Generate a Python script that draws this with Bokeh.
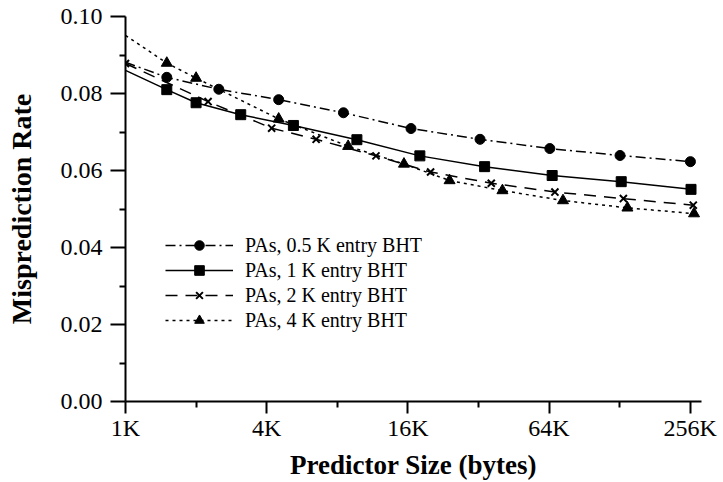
from bokeh.plotting import figure
from bokeh.models import (FixedTicker, CustomJSTickFormatter, Legend, LegendItem,
                          Range1d, PrintfTickFormatter)
from bokeh.embed import file_html
from bokeh.resources import INLINE

# Predictor size in KB
s05_x = [1.0, 1.5, 2.5, 4.5, 8.5, 16.5, 32.5, 64.5, 128.5, 256.5]
s05_y = [0.0881, 0.0842, 0.0811, 0.0784, 0.0750, 0.0709, 0.0681, 0.0657, 0.0639, 0.0623]

s1_x = [1.0, 1.5, 2.0, 3.1, 5.2, 9.7, 18.0, 34.0, 66.0, 130.0, 258.0]
s1_y = [0.0860, 0.0810, 0.0776, 0.0745, 0.0717, 0.0680, 0.0638, 0.0610, 0.0587, 0.0571, 0.0551]

s2_x = [1.0, 2.25, 4.2, 6.5, 11.7, 20.0, 36.3, 67.8, 132.8, 263.8]
s2_y = [0.0878, 0.0779, 0.0710, 0.0681, 0.0638, 0.0596, 0.0567, 0.0544, 0.0527, 0.0510]

s4_x = [1.0, 1.5, 2.0, 4.5, 8.9, 15.4, 24.1, 40.5, 73.4, 138.2, 265.8]
s4_y = [0.0951, 0.0879, 0.0840, 0.0734, 0.0663, 0.0617, 0.0574, 0.0548, 0.0522, 0.0503, 0.0488]

labels = ["PAs, 0.5 K entry BHT", "PAs, 1 K entry BHT", "PAs, 2 K entry BHT", "PAs, 4 K entry BHT"]

x_major = [1, 4, 16, 64, 256]
x_minor = [2, 8, 32, 128]
y_major = [0.0, 0.02, 0.04, 0.06, 0.08, 0.10]
y_minor = [0.01, 0.03, 0.05, 0.07, 0.09]

FONT = "Liberation Serif"

p = figure(width=723, height=482, x_axis_type="log",
           x_range=Range1d(1, 286), y_range=Range1d(0, 0.10),
           output_backend="svg", toolbar_location=None,
           min_border_left=125, min_border_right=22, min_border_top=16,
           min_border_bottom=81)
p.outline_line_color = None
p.grid.visible = False
p.background_fill_color = "white"

# axes styling
for ax in (p.xaxis[0], p.yaxis[0]):
    ax.axis_line_width = 2
    ax.major_tick_line_width = 2
    ax.minor_tick_line_width = 2
    ax.major_tick_in = 0
    ax.minor_tick_in = 0
    ax.major_label_text_font = FONT
    ax.major_label_text_font_size = "24px"
    ax.axis_label_text_font = FONT
    ax.axis_label_text_font_style = "bold"
    ax.axis_line_color = "black"
    ax.major_tick_line_color = "black"
    ax.minor_tick_line_color = "black"
    ax.major_label_text_color = "black"
    ax.axis_label_text_color = "black"

p.xaxis.ticker = FixedTicker(ticks=x_major, minor_ticks=x_minor)
p.xaxis.formatter = CustomJSTickFormatter(code="return tick + 'K';")
p.xaxis.major_tick_out = 12
p.xaxis.minor_tick_out = 6
p.xaxis.major_label_standoff = 1
p.xaxis.axis_label = "Predictor Size (bytes)"
p.xaxis.axis_label_text_font_size = "27px"
p.xaxis.axis_label_standoff = 6

p.yaxis.ticker = FixedTicker(ticks=y_major, minor_ticks=y_minor)
p.yaxis.formatter = PrintfTickFormatter(format="%.2f")
p.yaxis.major_tick_out = 15
p.yaxis.minor_tick_out = 6
p.yaxis.major_label_standoff = 8
p.yaxis.axis_label = "Misprediction Rate"
p.yaxis.axis_label_text_font_size = "28px"
p.yaxis.axis_label_standoff = 21

LW = 1.5
series = [
    (s05_x, s05_y, "10 4 2 4", "circle", 10, 1),
    (s1_x, s1_y, "solid", "square", 10, 1),
    (s2_x, s2_y, "12 8", "x", 10, 0),
    (s4_x, s4_y, "3 4", "triangle", 11, 1),
]

items = []
for (xs, ys, dash, marker, size, start), lab in zip(series, labels):
    lr = p.line(xs, ys, line_color="black", line_width=LW, line_dash=dash)
    sr = p.scatter(xs[start:], ys[start:], marker=marker, size=size,
                   fill_color="black", line_color="black",
                   line_width=2 if marker == "x" else 1)
    items.append(LegendItem(label=lab, renderers=[lr, sr]))

legend = Legend(items=items, location=(40, 69),
                label_text_font=FONT, label_text_font_size="20px",
                label_text_color="black",
                glyph_width=68, glyph_height=24, label_height=24,
                spacing=1, padding=0, margin=0, label_standoff=12,
                border_line_color=None, background_fill_alpha=0)
p.add_layout(legend)

open("out.html", "w").write(file_html(p, INLINE))
